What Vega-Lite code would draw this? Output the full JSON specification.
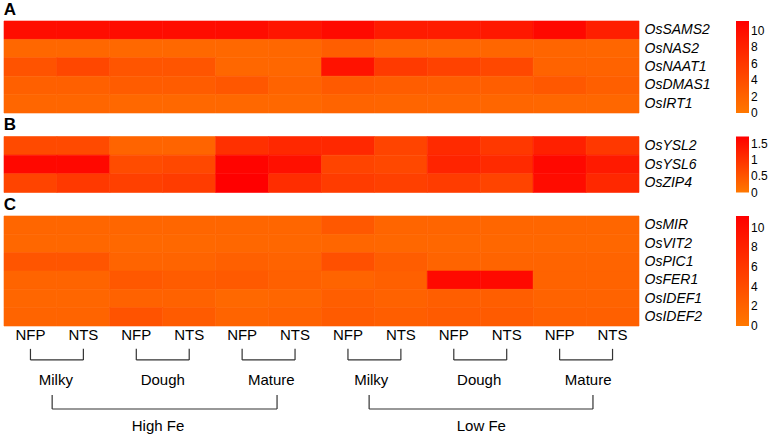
{
  "$schema": "https://vega.github.io/schema/vega-lite/v6.json",
  "padding": {"left": 3, "top": 0, "right": 0, "bottom": 0},
  "background": "white",
  "bounds": "flush",
  "spacing": 23.5,
  "config": {
    "view": {"stroke": null},
    "font": "Liberation Sans",
    "title": {"anchor": "start", "fontSize": 17, "fontWeight": "bold", "color": "black", "offset": 2, "font": "Liberation Sans"},
    "axisY": {"orient": "right", "domain": false, "ticks": false, "labelFontStyle": "italic", "labelFontSize": 14, "labelColor": "black", "labelPadding": 5, "minExtent": 79, "maxExtent": 79, "title": null, "labelFont": "Liberation Sans"},
    "legend": {"title": null, "gradientThickness": 13, "labelFontSize": 12, "labelOffset": 5, "offset": 18, "gradientStrokeWidth": 0, "labelColor": "black", "labelFont": "Liberation Sans", "labelOverlap": false}
  },
  "datasets": {
    "A": [
      {"g":"OsSAMS2","c":1,"v":10.0},{"g":"OsSAMS2","c":2,"v":10.0},{"g":"OsSAMS2","c":3,"v":10.1},{"g":"OsSAMS2","c":4,"v":10.1},{"g":"OsSAMS2","c":5,"v":10.1},{"g":"OsSAMS2","c":6,"v":9.2},{"g":"OsSAMS2","c":7,"v":10.3},{"g":"OsSAMS2","c":8,"v":8.7},{"g":"OsSAMS2","c":9,"v":8.6},{"g":"OsSAMS2","c":10,"v":9.0},{"g":"OsSAMS2","c":11,"v":10.5},{"g":"OsSAMS2","c":12,"v":8.3},
      {"g":"OsNAS2","c":1,"v":1.6},{"g":"OsNAS2","c":2,"v":1.6},{"g":"OsNAS2","c":3,"v":1.5},{"g":"OsNAS2","c":4,"v":1.5},{"g":"OsNAS2","c":5,"v":1.5},{"g":"OsNAS2","c":6,"v":1.6},{"g":"OsNAS2","c":7,"v":2.4},{"g":"OsNAS2","c":8,"v":1.8},{"g":"OsNAS2","c":9,"v":1.7},{"g":"OsNAS2","c":10,"v":1.7},{"g":"OsNAS2","c":11,"v":1.8},{"g":"OsNAS2","c":12,"v":1.7},
      {"g":"OsNAAT1","c":1,"v":3.5},{"g":"OsNAAT1","c":2,"v":4.6},{"g":"OsNAAT1","c":3,"v":3.3},{"g":"OsNAAT1","c":4,"v":3.3},{"g":"OsNAAT1","c":5,"v":1.6},{"g":"OsNAAT1","c":6,"v":1.6},{"g":"OsNAAT1","c":7,"v":9.5},{"g":"OsNAAT1","c":8,"v":5.8},{"g":"OsNAAT1","c":9,"v":5.0},{"g":"OsNAAT1","c":10,"v":4.5},{"g":"OsNAAT1","c":11,"v":2.0},{"g":"OsNAAT1","c":12,"v":2.0},
      {"g":"OsDMAS1","c":1,"v":2.2},{"g":"OsDMAS1","c":2,"v":2.2},{"g":"OsDMAS1","c":3,"v":2.6},{"g":"OsDMAS1","c":4,"v":2.6},{"g":"OsDMAS1","c":5,"v":3.1},{"g":"OsDMAS1","c":6,"v":2.0},{"g":"OsDMAS1","c":7,"v":2.8},{"g":"OsDMAS1","c":8,"v":2.5},{"g":"OsDMAS1","c":9,"v":2.4},{"g":"OsDMAS1","c":10,"v":2.4},{"g":"OsDMAS1","c":11,"v":3.0},{"g":"OsDMAS1","c":12,"v":2.3},
      {"g":"OsIRT1","c":1,"v":1.7},{"g":"OsIRT1","c":2,"v":1.7},{"g":"OsIRT1","c":3,"v":1.5},{"g":"OsIRT1","c":4,"v":1.5},{"g":"OsIRT1","c":5,"v":1.5},{"g":"OsIRT1","c":6,"v":1.5},{"g":"OsIRT1","c":7,"v":1.9},{"g":"OsIRT1","c":8,"v":1.8},{"g":"OsIRT1","c":9,"v":1.8},{"g":"OsIRT1","c":10,"v":1.7},{"g":"OsIRT1","c":11,"v":1.6},{"g":"OsIRT1","c":12,"v":1.6}
    ],
    "B": [
      {"g":"OsYSL2","c":1,"v":0.66},{"g":"OsYSL2","c":2,"v":0.66},{"g":"OsYSL2","c":3,"v":0.29},{"g":"OsYSL2","c":4,"v":0.29},{"g":"OsYSL2","c":5,"v":1.03},{"g":"OsYSL2","c":6,"v":1.15},{"g":"OsYSL2","c":7,"v":1.15},{"g":"OsYSL2","c":8,"v":0.75},{"g":"OsYSL2","c":9,"v":1.12},{"g":"OsYSL2","c":10,"v":0.92},{"g":"OsYSL2","c":11,"v":1.26},{"g":"OsYSL2","c":12,"v":0.92},
      {"g":"OsYSL6","c":1,"v":1.6},{"g":"OsYSL6","c":2,"v":1.6},{"g":"OsYSL6","c":3,"v":0.63},{"g":"OsYSL6","c":4,"v":0.69},{"g":"OsYSL6","c":5,"v":1.66},{"g":"OsYSL6","c":6,"v":1.49},{"g":"OsYSL6","c":7,"v":0.75},{"g":"OsYSL6","c":8,"v":0.69},{"g":"OsYSL6","c":9,"v":1.2},{"g":"OsYSL6","c":10,"v":1.12},{"g":"OsYSL6","c":11,"v":1.6},{"g":"OsYSL6","c":12,"v":1.35},
      {"g":"OsZIP4","c":1,"v":0.75},{"g":"OsZIP4","c":2,"v":0.9},{"g":"OsZIP4","c":3,"v":0.8},{"g":"OsZIP4","c":4,"v":0.86},{"g":"OsZIP4","c":5,"v":1.72},{"g":"OsZIP4","c":6,"v":1.08},{"g":"OsZIP4","c":7,"v":0.86},{"g":"OsZIP4","c":8,"v":0.8},{"g":"OsZIP4","c":9,"v":0.86},{"g":"OsZIP4","c":10,"v":0.75},{"g":"OsZIP4","c":11,"v":1.55},{"g":"OsZIP4","c":12,"v":1.15}
    ],
    "C": [
      {"g":"OsMIR","c":1,"v":1.7},{"g":"OsMIR","c":2,"v":1.7},{"g":"OsMIR","c":3,"v":1.7},{"g":"OsMIR","c":4,"v":1.7},{"g":"OsMIR","c":5,"v":1.7},{"g":"OsMIR","c":6,"v":1.7},{"g":"OsMIR","c":7,"v":3.0},{"g":"OsMIR","c":8,"v":1.8},{"g":"OsMIR","c":9,"v":1.8},{"g":"OsMIR","c":10,"v":1.7},{"g":"OsMIR","c":11,"v":1.7},{"g":"OsMIR","c":12,"v":1.7},
      {"g":"OsVIT2","c":1,"v":1.6},{"g":"OsVIT2","c":2,"v":1.6},{"g":"OsVIT2","c":3,"v":1.5},{"g":"OsVIT2","c":4,"v":1.5},{"g":"OsVIT2","c":5,"v":1.6},{"g":"OsVIT2","c":6,"v":1.6},{"g":"OsVIT2","c":7,"v":1.7},{"g":"OsVIT2","c":8,"v":1.6},{"g":"OsVIT2","c":9,"v":1.6},{"g":"OsVIT2","c":10,"v":1.6},{"g":"OsVIT2","c":11,"v":1.6},{"g":"OsVIT2","c":12,"v":1.6},
      {"g":"OsPIC1","c":1,"v":3.3},{"g":"OsPIC1","c":2,"v":3.3},{"g":"OsPIC1","c":3,"v":1.9},{"g":"OsPIC1","c":4,"v":1.9},{"g":"OsPIC1","c":5,"v":2.2},{"g":"OsPIC1","c":6,"v":2.0},{"g":"OsPIC1","c":7,"v":3.7},{"g":"OsPIC1","c":8,"v":2.5},{"g":"OsPIC1","c":9,"v":1.9},{"g":"OsPIC1","c":10,"v":1.9},{"g":"OsPIC1","c":11,"v":1.9},{"g":"OsPIC1","c":12,"v":1.9},
      {"g":"OsFER1","c":1,"v":1.9},{"g":"OsFER1","c":2,"v":1.9},{"g":"OsFER1","c":3,"v":3.0},{"g":"OsFER1","c":4,"v":2.6},{"g":"OsFER1","c":5,"v":2.8},{"g":"OsFER1","c":6,"v":2.2},{"g":"OsFER1","c":7,"v":1.9},{"g":"OsFER1","c":8,"v":2.2},{"g":"OsFER1","c":9,"v":10.4},{"g":"OsFER1","c":10,"v":10.4},{"g":"OsFER1","c":11,"v":2.0},{"g":"OsFER1","c":12,"v":2.0},
      {"g":"OsIDEF1","c":1,"v":1.7},{"g":"OsIDEF1","c":2,"v":1.7},{"g":"OsIDEF1","c":3,"v":2.1},{"g":"OsIDEF1","c":4,"v":2.1},{"g":"OsIDEF1","c":5,"v":1.5},{"g":"OsIDEF1","c":6,"v":1.7},{"g":"OsIDEF1","c":7,"v":2.4},{"g":"OsIDEF1","c":8,"v":2.1},{"g":"OsIDEF1","c":9,"v":2.4},{"g":"OsIDEF1","c":10,"v":2.4},{"g":"OsIDEF1","c":11,"v":2.0},{"g":"OsIDEF1","c":12,"v":2.0},
      {"g":"OsIDEF2","c":1,"v":1.9},{"g":"OsIDEF2","c":2,"v":1.9},{"g":"OsIDEF2","c":3,"v":3.5},{"g":"OsIDEF2","c":4,"v":2.7},{"g":"OsIDEF2","c":5,"v":1.9},{"g":"OsIDEF2","c":6,"v":2.1},{"g":"OsIDEF2","c":7,"v":2.7},{"g":"OsIDEF2","c":8,"v":2.4},{"g":"OsIDEF2","c":9,"v":2.7},{"g":"OsIDEF2","c":10,"v":2.7},{"g":"OsIDEF2","c":11,"v":2.2},{"g":"OsIDEF2","c":12,"v":2.2}
    ],
    "seg": [
      {"x1":0.5,"x2":0.5,"y1":1.24,"y2":1.84},{"x1":1.5,"x2":1.5,"y1":1.24,"y2":1.84},{"x1":0.5,"x2":1.5,"y1":1.84,"y2":1.84},
      {"x1":2.5,"x2":2.5,"y1":1.24,"y2":1.84},{"x1":3.5,"x2":3.5,"y1":1.24,"y2":1.84},{"x1":2.5,"x2":3.5,"y1":1.84,"y2":1.84},
      {"x1":4.5,"x2":4.5,"y1":1.24,"y2":1.84},{"x1":5.5,"x2":5.5,"y1":1.24,"y2":1.84},{"x1":4.5,"x2":5.5,"y1":1.84,"y2":1.84},
      {"x1":6.5,"x2":6.5,"y1":1.24,"y2":1.84},{"x1":7.5,"x2":7.5,"y1":1.24,"y2":1.84},{"x1":6.5,"x2":7.5,"y1":1.84,"y2":1.84},
      {"x1":8.5,"x2":8.5,"y1":1.24,"y2":1.84},{"x1":9.5,"x2":9.5,"y1":1.24,"y2":1.84},{"x1":8.5,"x2":9.5,"y1":1.84,"y2":1.84},
      {"x1":10.5,"x2":10.5,"y1":1.24,"y2":1.84},{"x1":11.5,"x2":11.5,"y1":1.24,"y2":1.84},{"x1":10.5,"x2":11.5,"y1":1.84,"y2":1.84},
      {"x1":0.91,"x2":0.91,"y1":3.73,"y2":4.49},{"x1":5.16,"x2":5.16,"y1":3.73,"y2":4.49},{"x1":0.91,"x2":5.16,"y1":4.49,"y2":4.49},
      {"x1":6.9,"x2":6.9,"y1":3.73,"y2":4.49},{"x1":11.13,"x2":11.13,"y1":3.73,"y2":4.49},{"x1":6.9,"x2":11.13,"y1":4.49,"y2":4.49}
    ],
    "lab": [
      {"t":"NFP","x":0.5,"y":0.49},{"t":"NTS","x":1.5,"y":0.49},{"t":"NFP","x":2.5,"y":0.49},{"t":"NTS","x":3.5,"y":0.49},
      {"t":"NFP","x":4.5,"y":0.49},{"t":"NTS","x":5.5,"y":0.49},{"t":"NFP","x":6.5,"y":0.49},{"t":"NTS","x":7.5,"y":0.49},
      {"t":"NFP","x":8.5,"y":0.49},{"t":"NTS","x":9.5,"y":0.49},{"t":"NFP","x":10.5,"y":0.49},{"t":"NTS","x":11.5,"y":0.49},
      {"t":"Milky","x":0.98,"y":2.92},{"t":"Dough","x":3.0,"y":2.92},{"t":"Mature","x":5.05,"y":2.92},
      {"t":"Milky","x":6.94,"y":2.92},{"t":"Dough","x":8.98,"y":2.92},{"t":"Mature","x":11.04,"y":2.92},
      {"t":"High Fe","x":2.91,"y":5.4},{"t":"Low Fe","x":9.02,"y":5.4}
    ]
  },
  "vconcat": [
    {
      "title": {"text": "A"},
      "width": 635, "height": 92,
      "data": {"name": "A"},
      "mark": {"type": "rect", "strokeWidth": 0.6},
      "encoding": {
        "x": {"field": "c", "type": "ordinal", "axis": null},
        "y": {"field": "g", "type": "nominal", "sort": null},
        "fill": {"field": "v", "type": "quantitative", "scale": {"domain": [0, 11.2], "nice": false, "interpolate": "rgb", "range": ["#ff7800", "#ff0000"]}, "legend": {"type": "gradient", "gradientLength": 92, "values": [0, 2, 4, 6, 8, 10], "encode": {"labels": {"update": {"baseline": {"value": "middle"}}}}}},
        "stroke": {"field": "v", "type": "quantitative", "scale": {"domain": [0, 11.21], "nice": false, "interpolate": "rgb", "range": ["#ff7800", "#ff0000"]}, "legend": null}
      }
    },
    {
      "title": {"text": "B"},
      "width": 635, "height": 56,
      "data": {"name": "B"},
      "mark": {"type": "rect", "strokeWidth": 0.6},
      "encoding": {
        "x": {"field": "c", "type": "ordinal", "axis": null},
        "y": {"field": "g", "type": "nominal", "sort": null},
        "fill": {"field": "v", "type": "quantitative", "scale": {"domain": [0, 1.72], "nice": false, "interpolate": "rgb", "range": ["#ff7800", "#ff0000"]}, "legend": {"type": "gradient", "gradientLength": 56, "values": [0, 0.5, 1, 1.5], "format": ".1~f", "encode": {"labels": {"update": {"baseline": {"value": "middle"}}}}}},
        "stroke": {"field": "v", "type": "quantitative", "scale": {"domain": [0, 1.721], "nice": false, "interpolate": "rgb", "range": ["#ff7800", "#ff0000"]}, "legend": null}
      }
    },
    {
      "title": {"text": "C"},
      "width": 635, "height": 110,
      "data": {"name": "C"},
      "mark": {"type": "rect", "strokeWidth": 0.6},
      "encoding": {
        "x": {"field": "c", "type": "ordinal", "axis": null},
        "y": {"field": "g", "type": "nominal", "sort": null},
        "fill": {"field": "v", "type": "quantitative", "scale": {"domain": [0, 11.2], "nice": false, "interpolate": "rgb", "range": ["#ff7800", "#ff0000"]}, "legend": {"type": "gradient", "gradientLength": 110, "values": [0, 2, 4, 6, 8, 10], "encode": {"labels": {"update": {"baseline": {"value": "middle"}}}}}},
        "stroke": {"field": "v", "type": "quantitative", "scale": {"domain": [0, 11.21], "nice": false, "interpolate": "rgb", "range": ["#ff7800", "#ff0000"]}, "legend": null}
      }
    },
    {
      "width": 635, "height": 88,
      "layer": [
        {
          "data": {"name": "seg"},
          "mark": {"type": "rule", "color": "#333333", "strokeWidth": 1.2},
          "encoding": {
            "x": {"field": "x1", "type": "quantitative", "scale": {"domain": [0, 12], "nice": false, "zero": false}, "axis": null},
            "x2": {"field": "x2"},
            "y": {"field": "y1", "type": "quantitative", "scale": {"domain": [1.274, 6.03], "nice": false, "zero": false, "reverse": true}, "axis": null},
            "y2": {"field": "y2"}
          }
        },
        {
          "data": {"name": "lab"},
          "mark": {"type": "text", "fontSize": 15, "color": "black", "font": "Liberation Sans", "baseline": "middle", "align": "center"},
          "encoding": {
            "x": {"field": "x", "type": "quantitative"},
            "y": {"field": "y", "type": "quantitative"},
            "text": {"field": "t"}
          }
        }
      ]
    }
  ],
  "resolve": {"scale": {"fill": "independent", "stroke": "independent", "x": "independent", "y": "independent"}}
}
